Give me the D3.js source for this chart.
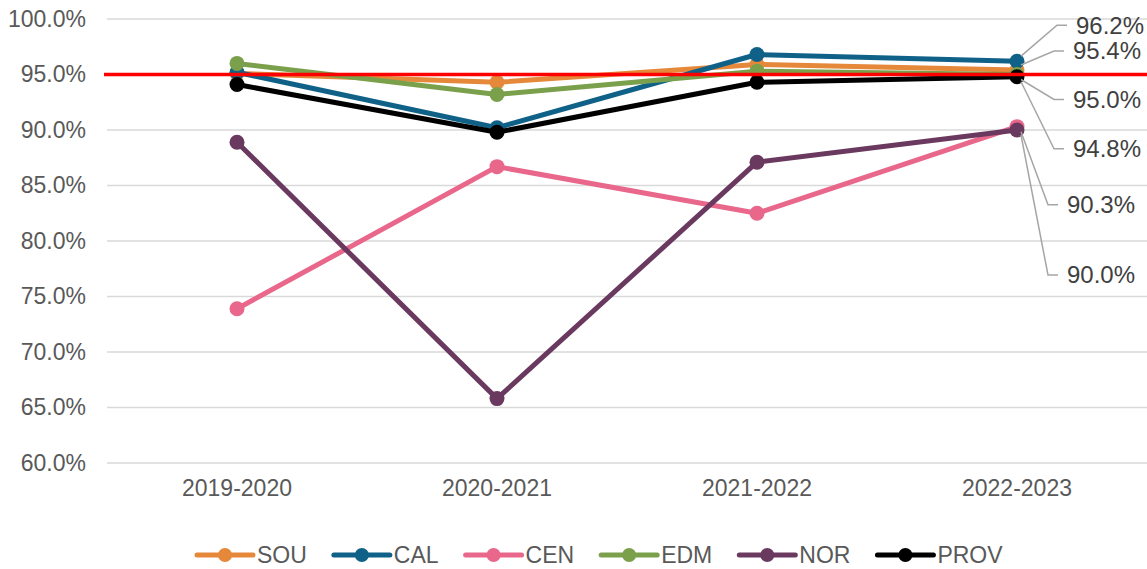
<!DOCTYPE html>
<html lang="en">
<head>
<meta charset="utf-8" />
<script src="https://cdnjs.cloudflare.com/ajax/libs/d3/7.8.5/d3.min.js"></script>
<style>
  body { margin: 0; background: #fff; }
  svg { font-family: "Liberation Sans", Arial, sans-serif; }
</style>
</head>
<body>
<div id="chart"></div>
<script>
// Data
const years = ['2019-2020', '2020-2021', '2021-2022', '2022-2023'];
const sou = [95.1, 94.3, 95.9, 95.4];
const cal = [95.2, 90.2, 96.8, 96.2];
const cen = [73.9, 86.7, 82.5, 90.3];
const edm = [96.0, 93.2, 95.3, 95.0];
const nor = [88.9, 65.8, 87.1, 90.0];
const prov = [94.1, 89.8, 94.3, 94.8];
const target = 95.0;
const yTicks = [60, 65, 70, 75, 80, 85, 90, 95, 100];

const series = [
    { name: 'SOU', values: sou, color: '#E5883A' },
    { name: 'CAL', values: cal, color: '#0F6188' },
    { name: 'CEN', values: cen, color: '#E8678B' },
    { name: 'EDM', values: edm, color: '#7BA04B' },
    { name: 'NOR', values: nor, color: '#6A395F' },
    { name: 'PROV', values: prov, color: '#000000' }
];

// end labels: which series, and where the text goes relative to the last point
const endLabels = [
    { name: 'CAL', dx: 50, dy: -36 },
    { name: 'SOU', dx: 47, dy: -19 },
    { name: 'EDM', dx: 47, dy: 25 },
    { name: 'PROV', dx: 47, dy: 72 },
    { name: 'CEN', dx: 41, dy: 78 },
    { name: 'NOR', dx: 41, dy: 145 }
];

const width = 1147;
const height = 569;
const margin = { top: 19, bottom: 106, left: 107, right: 0 };

const svg = d3.select('#chart').append('svg')
    .attr('width', width)
    .attr('height', height);

const x = d3.scaleBand().domain(years).range([margin.left, width - margin.right]);
const y = d3.scaleLinear().domain([60, 100]).range([height - margin.bottom, margin.top]);
const cx = (d) => x(d) + x.bandwidth() / 2;

// gridlines
svg.append('g').selectAll('line')
    .data(yTicks)
    .enter()
    .append('line')
    .attr('x1', margin.left)
    .attr('x2', width)
    .attr('y1', (d) => y(d))
    .attr('y2', (d) => y(d))
    .attr('stroke', '#d9d9d9')
    .attr('stroke-width', 1.5);

// y axis
const yAxis = svg.append('g')
    .attr('transform', `translate(${margin.left}, 0)`)
    .call(d3.axisLeft(y).tickValues(yTicks).tickFormat((d) => d.toFixed(1) + '%').tickSize(0).tickPadding(21));
yAxis.select('.domain').remove();
yAxis.selectAll('text').attr('font-size', 23).attr('fill', '#595959').attr('font-family', 'Liberation Sans, Arial, sans-serif');

// x axis
const xAxis = svg.append('g')
    .attr('transform', `translate(0, ${y(60)})`)
    .call(d3.axisBottom(x).tickSize(0).tickPadding(17));
xAxis.select('.domain').remove();
xAxis.selectAll('text').attr('font-size', 23).attr('fill', '#595959').attr('font-family', 'Liberation Sans, Arial, sans-serif');

// series
const line = d3.line().x((d, i) => cx(years[i])).y((d) => y(d));

series.forEach((s) => {
    const g = svg.append('g');
    g.append('path')
        .attr('d', line(s.values))
        .attr('fill', 'none')
        .attr('stroke', s.color)
        .attr('stroke-width', 5)
        .attr('stroke-linejoin', 'round');
    g.selectAll('circle')
        .data(s.values)
        .enter()
        .append('circle')
        .attr('cx', (d, i) => cx(years[i]))
        .attr('cy', (d) => y(d))
        .attr('r', 7.5)
        .attr('fill', s.color);
});

// target line
svg.append('line')
    .attr('x1', margin.left - 3)
    .attr('x2', width)
    .attr('y1', y(target))
    .attr('y2', y(target))
    .attr('stroke', '#FF0000')
    .attr('stroke-width', 3.5);

// end labels with leader lines
const last = years.length - 1;
endLabels.forEach((l) => {
    const s = series.find((d) => d.name === l.name);
    const px = cx(years[last]);
    const py = y(s.values[last]);
    const tx = px + l.dx;
    const ty = py + l.dy;
    const sx = px + 4;
    const sy = py + 5 * Math.sign(l.dy);
    svg.append('polyline')
        .attr('points', `${sx},${sy} ${tx - 10},${ty} ${tx},${ty}`)
        .attr('fill', 'none')
        .attr('stroke', '#a6a6a6')
        .attr('stroke-width', 1.5);
    svg.append('text')
        .attr('x', tx + 9)
        .attr('y', ty)
        .attr('dy', '0.35em')
        .attr('font-size', 24)
        .attr('fill', '#404040')
        .text(s.values[last].toFixed(1) + '%');
});

// legend
const legend = svg.append('g').attr('transform', `translate(0, 555)`);
let lx = 197;
series.forEach((s) => {
    const item = legend.append('g').attr('transform', `translate(${lx}, 0)`);
    item.append('line')
        .attr('x1', 0).attr('x2', 56)
        .attr('stroke', s.color)
        .attr('stroke-width', 5)
        .attr('stroke-linecap', 'round');
    item.append('circle').attr('cx', 28).attr('r', 7).attr('fill', s.color);
    const t = item.append('text')
        .attr('x', 60)
        .attr('dy', '0.35em')
        .attr('font-size', 23)
        .attr('fill', '#595959')
        .text(s.name);
    lx += 60 + t.node().getComputedTextLength() + 27;
});
</script>
</body>
</html>
